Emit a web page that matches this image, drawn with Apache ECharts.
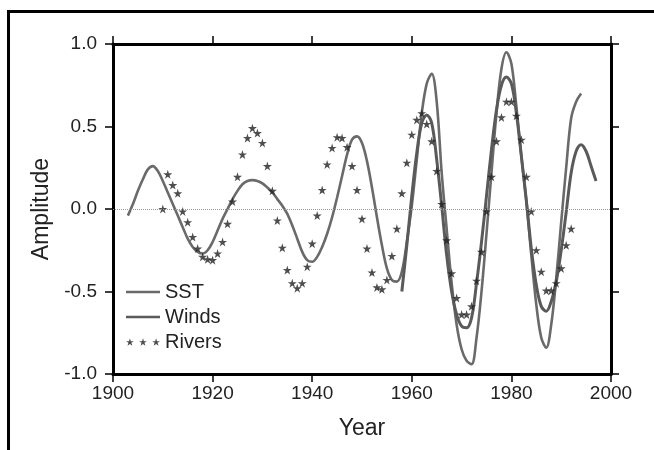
<!DOCTYPE html>
<html>
<head>
<meta charset="utf-8">
<script src="https://cdn.jsdelivr.net/npm/echarts@6/dist/echarts.min.js"></script>
<style>
html,body{margin:0;padding:0;background:#fff;}
#chart{width:654px;height:450px;}
</style>
</head>
<body>
<div id="chart"></div>
<script>
// ---- data ----
const xTicks = [1900, 1920, 1940, 1960, 1980, 2000];
const yTicks = [-1.0, -0.5, 0.0, 0.5, 1.0];

const sstYears = [1903,1904,1905,1906,1907,1908,1909,1910,1911,1912,1913,1914,1915,1916,1917,1918,1919,1920,1921,1922,
  1923,1924,1925,1926,1927,1928,1929,1930,1931,1932,1933,1934,1935,1936,1937,1938,1939,1940,1941,1942,
  1943,1944,1945,1946,1947,1948,1949,1950,1951,1952,1953,1954,1955,1956,1957,1958,1959,1960,1961,1962,
  1963,1964,1965,1966,1967,1968,1969,1970,1971,1972,1973,1974,1975,1976,1977,1978,1979,1980,1981,1982,
  1983,1984,1985,1986,1987,1988,1989,1990,1991,1992,1993,1994];
const sstValues = [-0.04,0.03,0.11,0.18,0.24,0.26,0.23,0.17,0.10,0.03,-0.04,-0.11,-0.18,-0.23,-0.26,-0.27,-0.25,-0.20,-0.13,-0.06,
  0.00,0.06,0.11,0.15,0.17,0.175,0.17,0.155,0.13,0.10,0.06,0.02,-0.03,-0.10,-0.18,-0.26,-0.31,-0.32,-0.29,-0.23,
  -0.15,-0.05,0.07,0.20,0.33,0.42,0.44,0.40,0.29,0.13,-0.05,-0.22,-0.36,-0.43,-0.44,-0.38,-0.20,0.02,0.30,0.58,
  0.76,0.82,0.65,0.22,-0.12,-0.45,-0.70,-0.85,-0.92,-0.94,-0.78,-0.50,-0.15,0.22,0.58,0.85,0.95,0.88,0.62,0.32,
  0.05,-0.28,-0.58,-0.78,-0.84,-0.70,-0.42,-0.08,0.25,0.55,0.65,0.70];

const windsYears = [1958,1959,1960,1961,1962,1963,1964,1965,1966,1967,1968,1969,1970,1971,1972,1973,1974,1975,1976,1977,
  1978,1979,1980,1981,1982,1983,1984,1985,1986,1987,1988,1989,1990,1991,1992,1993,1994,1995,1996,1997];
const windsValues = [-0.50,-0.22,0.08,0.34,0.52,0.57,0.52,0.30,0.02,-0.28,-0.50,-0.64,-0.71,-0.72,-0.66,-0.45,-0.20,0.08,0.36,0.60,
  0.75,0.80,0.76,0.58,0.32,0.05,-0.24,-0.46,-0.59,-0.62,-0.56,-0.44,-0.25,-0.02,0.22,0.35,0.39,0.35,0.26,0.17];

const riverYears = [1910,1911,1912,1913,1914,1915,1916,1917,1918,1919,1920,1921,1922,1923,1924,1925,1926,1927,1928,1929,
  1930,1931,1932,1933,1934,1935,1936,1937,1938,1939,1940,1941,1942,1943,1944,1945,1946,1947,1948,1949,
  1950,1951,1952,1953,1954,1955,1956,1957,1958,1959,1960,1961,1962,1963,1964,1965,1966,1967,1968,1969,
  1970,1971,1972,1973,1974,1975,1976,1977,1978,1979,1980,1981,1982,1983,1984,1985,1986,1987,1988,1989,
  1990,1991,1992];
const riverValues = [0.00,0.21,0.145,0.095,-0.015,-0.08,-0.17,-0.24,-0.29,-0.305,-0.31,-0.27,-0.20,-0.09,0.045,0.195,0.33,0.43,0.49,0.46,
  0.40,0.26,0.11,-0.07,-0.235,-0.37,-0.45,-0.48,-0.45,-0.35,-0.21,-0.04,0.115,0.27,0.37,0.435,0.43,0.375,0.26,0.115,
  -0.06,-0.24,-0.385,-0.475,-0.487,-0.43,-0.285,-0.12,0.095,0.28,0.45,0.54,0.58,0.515,0.41,0.23,0.03,-0.19,-0.39,-0.54,
  -0.64,-0.64,-0.59,-0.435,-0.26,-0.015,0.195,0.41,0.555,0.65,0.65,0.565,0.42,0.195,-0.015,-0.25,-0.38,-0.495,-0.495,-0.45,
  -0.36,-0.22,-0.12];

const seriesNames = ['SST', 'Winds', 'Rivers'];
const xName = 'Year';
const yName = 'Amplitude';

// ---- build ----
const zip = (a, b) => a.map((v, i) => [v, b[i]]);
const STAR = 'M50 0 L61.17 34.63 L97.55 34.55 L68.07 55.87 L79.39 90.45 L50 69 L20.61 90.45 L31.93 55.87 L2.45 34.55 L38.83 34.63 Z';
const STAR3 = 'path://' + [0, 160, 320].map(dx =>
  STAR.replace(/([ML])([\d.]+) ([\d.]+)/g, (m, c, x, y) => c + (parseFloat(x) + dx).toFixed(2) + ' ' + y)
).join(' ');
const BAR = 'path://M0 0 H100 V8 H0 Z';

const FONT = '"Liberation Sans", Arial, Helvetica, sans-serif';
const axisLine = {show: true, onZero: false, lineStyle: {color: '#000', width: 3}};
const axisTick = {show: true, inside: false, length: 8, lineStyle: {color: '#000', width: 1.5}};

const chart = echarts.init(document.getElementById('chart'), null, {renderer: 'canvas'});
chart.setOption({
  animation: false,
  backgroundColor: '#fff',
  textStyle: {fontFamily: FONT},
  grid: {left: 113, right: 43, top: 44, bottom: 76, containLabel: false},
  graphic: [{
    type: 'rect', silent: true, z: -1,
    shape: {x: 8.5, y: 11.5, width: 720, height: 520},
    style: {fill: 'none', stroke: '#000', lineWidth: 3}
  }],
  legend: {
    orient: 'vertical', left: 121, top: 277,
    itemWidth: 34, itemHeight: 9, itemGap: 5,
    textStyle: {fontSize: 20, color: '#222', fontFamily: FONT},
    data: [
      {name: seriesNames[0], icon: BAR, itemStyle: {color: '#6a6a6a'}},
      {name: seriesNames[1], icon: BAR, itemStyle: {color: '#5a5a5a'}},
      {name: seriesNames[2], icon: STAR3, itemStyle: {color: '#222'}}
    ]
  },
  xAxis: [{
    type: 'value', position: 'bottom', min: xTicks[0], max: xTicks[xTicks.length - 1], interval: 20,
    name: xName, nameLocation: 'middle', nameGap: 43,
    nameTextStyle: {fontSize: 23, color: '#222', fontFamily: FONT},
    axisLine: axisLine, axisTick: axisTick,
    axisLabel: {fontSize: 19, color: '#222', margin: 10, fontFamily: FONT, formatter: v => String(v)},
    splitLine: {show: false}
  }, {
    type: 'value', position: 'top', min: xTicks[0], max: xTicks[xTicks.length - 1], interval: 20,
    axisLine: axisLine, axisTick: axisTick, axisLabel: {show: false}, splitLine: {show: false}
  }],
  yAxis: [{
    type: 'value', position: 'left', min: yTicks[0], max: yTicks[yTicks.length - 1], interval: 0.5,
    name: yName, nameLocation: 'middle', nameGap: 60, nameRotate: 90,
    nameTextStyle: {fontSize: 23, color: '#222', fontFamily: FONT},
    axisLine: axisLine, axisTick: axisTick,
    axisLabel: {fontSize: 19, color: '#222', margin: 16, fontFamily: FONT, formatter: v => v.toFixed(1)},
    splitLine: {show: false}
  }, {
    type: 'value', position: 'right', min: yTicks[0], max: yTicks[yTicks.length - 1], interval: 0.5,
    axisLine: axisLine, axisTick: axisTick, axisLabel: {show: false}, splitLine: {show: false}
  }],
  series: [{
    name: seriesNames[0], type: 'line', data: zip(sstYears, sstValues),
    smooth: 0.35, symbol: 'none', z: 3,
    lineStyle: {color: '#6a6a6a', width: 2.6},
    itemStyle: {color: '#6a6a6a'},
    markLine: {
      silent: true, symbol: 'none', label: {show: false},
      lineStyle: {type: 'dotted', color: '#999', width: 1},
      data: [{yAxis: 0}]
    }
  }, {
    name: seriesNames[1], type: 'line', data: zip(windsYears, windsValues),
    smooth: 0.35, symbol: 'none', z: 3,
    lineStyle: {color: '#5a5a5a', width: 3},
    itemStyle: {color: '#5a5a5a'}
  }, {
    name: seriesNames[2], type: 'scatter', data: zip(riverYears, riverValues),
    symbol: 'path://' + STAR, symbolSize: 9, z: 4,
    itemStyle: {color: '#222'}
  }]
});
</script>
</body>
</html>
